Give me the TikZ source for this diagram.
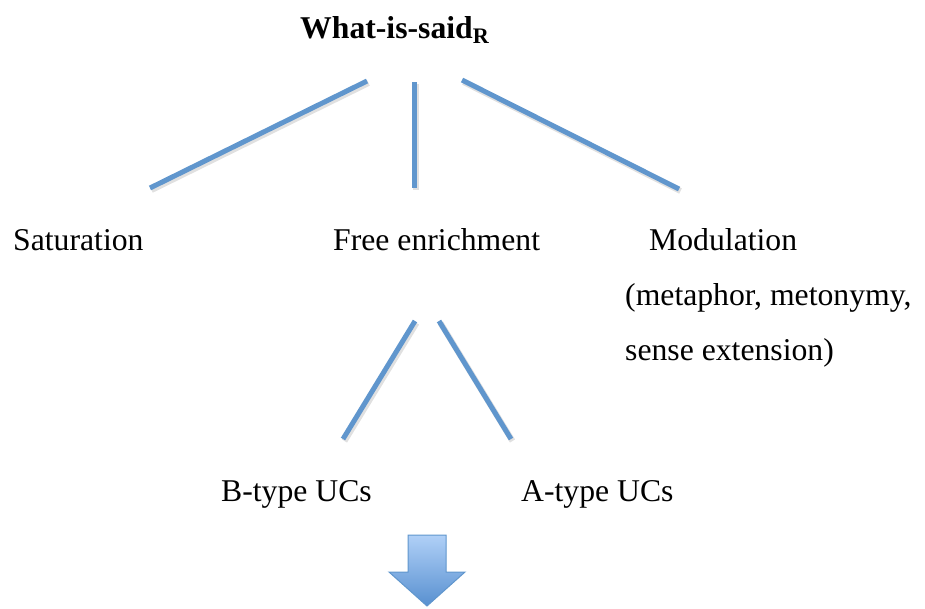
\documentclass[tikz,border=0pt]{standalone}
\usepackage{fontspec}
\setmainfont{Liberation Serif}
\usepackage{tikz}
\usetikzlibrary{arrows.meta, positioning, calc}
\usepackage{xcolor}
\definecolor{branchblue}{RGB}{96,150,205}
\definecolor{arrowtop}{RGB}{176,208,247}
\definecolor{arrowbot}{RGB}{88,144,208}
\tikzset{
  termtext/.style={
    anchor=base west, inner sep=0pt, font=\fontsize{31.7}{38}\selectfont
  },
  headtext/.style={
    termtext, font=\fontsize{31.7}{38}\selectfont\bfseries
  },
  branch/.style={draw=branchblue, line width=5pt},
  branchshadow/.style={draw=black!12, line width=6pt},
  downarrow/.style={
    draw=branchblue, line width=1pt, top color=arrowtop, bottom color=arrowbot
  }
}

\begin{document}
\begin{tikzpicture}[x=1pt, y=-1pt]
\useasboundingbox (0,0) rectangle (925,608);

\node[headtext] (said)  at (300,38)  {What-is-said\textsubscript{R}};
\node[termtext] (sat)   at (13,250)  {Saturation};
\node[termtext] (free)  at (333,250) {Free enrichment};
\node[termtext] (modul) at (649,250) {Modulation};
\node[termtext] (note)  at (625,305) {(metaphor, metonymy,};
\node[termtext] (notb)  at (625,360) {sense extension)};
\node[termtext] (btype) at (221,501) {B-type UCs};
\node[termtext] (atype) at (521,501) {A-type UCs};

% branch ends
\coordinate (saidL) at (367,81);
\coordinate (saidM) at (414,82);
\coordinate (saidR) at (462,80);
\coordinate (satT)  at (150,188);
\coordinate (freeT) at (414,188);
\coordinate (modT)  at (679,189);
\coordinate (freeL) at (415,321);
\coordinate (freeR) at (439,321);
\coordinate (bT)    at (343,439);
\coordinate (aT)    at (511,439);

\foreach \a/\b in {saidL/satT, saidM/freeT, saidR/modT, freeL/bT, freeR/aT}
  \draw[branchshadow] ([shift={(1.5,2)}]\a) -- ([shift={(1.5,2)}]\b);
\foreach \a/\b in {saidL/satT, saidM/freeT, saidR/modT, freeL/bT, freeR/aT}
  \draw[branch] (\a) -- (\b);

% result arrow
\path[downarrow] (408,535) -- (446,535) -- (446,572) -- (465,572)
  -- (427,606) -- (389,572) -- (408,572) -- cycle;
\end{tikzpicture}
\end{document}
